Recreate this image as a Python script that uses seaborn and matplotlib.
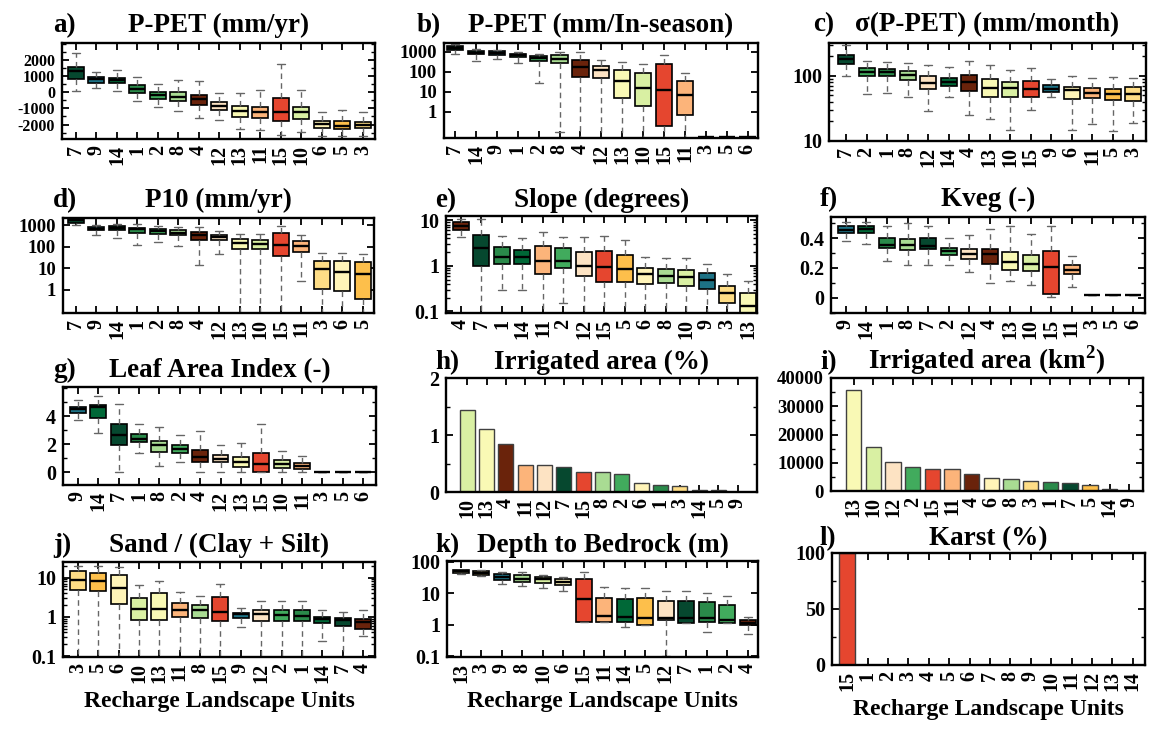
"""Recharge landscape units: distribution of climate / landscape attributes per unit."""

import numpy as np
import pandas as pd
import matplotlib
matplotlib.use("Agg")
import matplotlib.pyplot as plt
import matplotlib.ticker as mticker
import matplotlib.transforms as mtransforms
import seaborn as sns

# colour of each recharge landscape unit
UNIT_COLORS = {
    1: "#2a8a4a", 2: "#41ab5d", 3: "#fedd86", 4: "#6a230b", 5: "#fdbf4b",
    6: "#fff4b8", 7: "#06482f", 8: "#a9dc93", 9: "#1d7285", 10: "#d9f0a3",
    11: "#fcb47a", 12: "#fde3c3", 13: "#f9f9b5", 14: "#006837", 15: "#e5462f",
}

# box panels: units in plotted order, and [low whisker, q1, median, q3, high whisker]
# (0.001 = whisker running below the axis)
A_UNITS = [7, 9, 14, 1, 2, 8, 4, 12, 13, 11, 15, 10, 6, 5, 3]
A_STATS = [[103, 825, 1320, 1588, 2474], [247, 598, 804, 969, 1278],
           [103, 557, 763, 907, 1381], [-536, -21, 206, 454, 928],
           [-928, -412, -165, 41, 515], [-1155, -515, -268, 21, 742],
           [-1608, -784, -412, -165, 680], [-1711, -1093, -845, -598, -21],
           [-2289, -1546, -1155, -845, -62], [-2371, -1608, -1196, -887, 124],
           [-2639, -1753, -1237, -371, 1753], [-2495, -1670, -1237, -928, 124],
           [-2701, -2227, -1959, -1773, -1196], [-2701, -2289, -2062, -1794, -1093],
           [-2701, -2247, -2041, -1835, -1216]]

B_UNITS = [7, 14, 9, 1, 2, 8, 4, 12, 13, 10, 15, 11, 3, 5, 6]
B_STATS = [[800, 1200, 1500, 1900, 2600], [350, 740, 900, 1100, 1450],
           [420, 700, 850, 1050, 1300], [280, 560, 680, 830, 1000],
           [28, 360, 480, 600, 830], [0.09, 280, 460, 680, 1000],
           [0.001, 56, 178, 410, 1000], [0.001, 50, 120, 190, 410],
           [0.001, 4.6, 35, 120, 316], [0.001, 1.9, 15, 83, 260],
           [0.001, 0.18, 12, 260, 680], [0.001, 0.7, 6.6, 34, 90],
           [0.052] * 5, [0.052] * 5, [0.052] * 5]

C_UNITS = [7, 2, 1, 8, 12, 14, 4, 13, 10, 15, 9, 6, 11, 5, 3]
C_STATS = [[100, 150, 179, 213, 303], [53, 100, 116, 131, 171],
           [54, 98, 114, 126, 165], [48, 87, 104, 119, 160],
           [29, 63, 77, 98, 147], [47, 70, 82, 94, 139],
           [25, 59, 82, 104, 169], [22, 48, 65, 89, 147],
           [15, 48, 65, 82, 123], [30, 48, 63, 84, 131],
           [47, 56, 63, 73, 89], [15, 44, 60, 67, 98],
           [18, 46, 54, 65, 92], [14, 43, 53, 63, 95],
           [19, 41, 53, 67, 94]]

D_UNITS = [7, 9, 14, 1, 2, 8, 4, 12, 13, 10, 15, 11, 3, 6, 5]
D_STATS = [[1070, 1300, 1700, 2000, 2400], [370, 590, 700, 840, 1000],
           [270, 590, 750, 930, 1190], [120, 460, 650, 780, 1100],
           [170, 410, 550, 700, 930], [107, 345, 460, 590, 840],
           [15, 218, 345, 490, 840], [44, 204, 290, 370, 530],
           [0.001, 78, 152, 226, 410], [0.001, 78, 133, 204, 410],
           [0.001, 38, 120, 445, 900], [2.5, 59, 112, 190, 370],
           [0.001, 1.1, 9, 22, 49], [0.001, 0.9, 7, 22, 49],
           [0.001, 0.37, 5.2, 19, 46]]

E_UNITS = [4, 7, 1, 14, 11, 2, 12, 15, 5, 6, 8, 10, 9, 3, 13]
E_STATS = [[4.3, 6.0, 7.5, 9.2, 10.9], [0.001, 1.0, 2.5, 4.7, 10.9],
           [0.3, 1.07, 1.6, 2.6, 4.5], [0.3, 1.07, 1.55, 2.2, 4.0],
           [0.001, 0.65, 1.3, 2.7, 5.5], [0.155, 0.9, 1.3, 2.4, 4.3],
           [0.001, 0.6, 1.0, 2.0, 4.2], [0.001, 0.43, 0.92, 2.1, 4.5],
           [0.001, 0.43, 0.83, 1.7, 3.7], [0.001, 0.4, 0.65, 0.9, 1.6],
           [0.001, 0.41, 0.6, 0.83, 1.5], [0.001, 0.36, 0.57, 0.8, 1.5],
           [0.001, 0.31, 0.5, 0.68, 1.07], [0.001, 0.15, 0.25, 0.36, 0.66],
           [0.001, 0.08, 0.13, 0.25, 0.46]]

F_UNITS = [9, 14, 1, 8, 7, 2, 12, 4, 13, 10, 15, 11, 3, 5, 6]
F_STATS = [[0.378, 0.435, 0.455, 0.477, 0.505], [0.363, 0.433, 0.462, 0.477, 0.505],
           [0.246, 0.334, 0.356, 0.402, 0.477], [0.22, 0.319, 0.352, 0.396, 0.5],
           [0.22, 0.325, 0.347, 0.402, 0.477], [0.22, 0.286, 0.312, 0.334, 0.4],
           [0.176, 0.257, 0.292, 0.325, 0.422], [0.099, 0.226, 0.29, 0.325, 0.462],
           [0.114, 0.187, 0.237, 0.308, 0.483], [0.088, 0.18, 0.224, 0.286, 0.424],
           [0.004, 0.026, 0.209, 0.312, 0.477], [0.07, 0.158, 0.187, 0.22, 0.279],
           [0.018] * 5, [0.018] * 5, [0.018] * 5]

G_UNITS = [9, 14, 7, 1, 8, 2, 4, 12, 13, 15, 10, 11, 3, 5, 6]
G_STATS = [[3.74, 4.26, 4.5, 4.69, 5.2], [2.84, 3.88, 4.66, 4.78, 5.44],
           [0, 1.94, 2.65, 3.43, 4.9], [1.42, 2.18, 2.41, 2.72, 3.48],
           [0.47, 1.47, 1.94, 2.25, 3.24], [0.71, 1.42, 1.7, 1.94, 2.65],
           [0.05, 0.71, 1.11, 1.63, 2.93], [0.05, 0.71, 0.99, 1.23, 1.99],
           [0.05, 0.4, 0.71, 1.11, 2.13], [0, 0.05, 0.59, 1.42, 3.48],
           [0.05, 0.33, 0.57, 0.88, 1.51], [0.05, 0.24, 0.47, 0.64, 1.18],
           [0] * 5, [0] * 5, [0] * 5]

J_UNITS = [3, 5, 6, 10, 13, 11, 8, 15, 9, 12, 2, 1, 14, 7, 4]
J_STATS = [[0.001, 4.9, 8.5, 14.5, 19.4], [0.001, 4.5, 8.2, 13.4, 19.4],
           [0.001, 2.1, 5.3, 12, 18.7], [0.001, 0.82, 1.6, 3.1, 6.4],
           [0.001, 0.82, 1.6, 4.1, 8.2], [0.001, 1.0, 1.5, 2.3, 4.3],
           [0.001, 0.94, 1.5, 2.0, 3.4], [0.001, 0.79, 1.3, 3.2, 6.8],
           [0.56, 0.96, 1.15, 1.26, 1.7], [0.001, 0.78, 1.15, 1.5, 2.6],
           [0.001, 0.79, 1.1, 1.5, 2.5], [0.001, 0.78, 1.05, 1.5, 2.6],
           [0.25, 0.68, 0.87, 1.0, 1.5], [0.001, 0.58, 0.82, 0.94, 1.35],
           [0.33, 0.5, 0.74, 0.87, 1.47]]

K_UNITS = [13, 3, 9, 8, 10, 6, 15, 11, 14, 5, 12, 7, 1, 2, 4]
K_STATS = [[42, 45, 50, 53, 56], [35, 39, 45, 51, 53],
           [19.6, 26, 33, 42, 48], [17, 23, 29, 37, 48],
           [15, 21.5, 27.5, 33, 39], [11.8, 18, 23, 28, 33],
           [1.2, 1.2, 6.6, 27.5, 48], [1.2, 1.2, 1.86, 7.3, 16],
           [0.85, 1.2, 1.74, 6.5, 14.4], [1.0, 1.0, 1.66, 7, 14.4],
           [0.105, 1.37, 1.66, 5.5, 11.8], [1.15, 1.15, 1.58, 5.8, 12],
           [0.6, 1.2, 1.58, 5.1, 10.5], [1.15, 1.15, 1.4, 4.1, 8.3],
           [0.52, 1.0, 1.15, 1.37, 1.74]]

# bar panels
H_UNITS = [10, 13, 4, 11, 12, 7, 15, 8, 2, 6, 1, 3, 14, 5, 9]
H_VALUES = [1.44, 1.10, 0.85, 0.48, 0.47, 0.44, 0.35, 0.35, 0.32, 0.165, 0.12, 0.11, 0.04, 0.04, 0.0]

I_UNITS = [13, 10, 12, 2, 15, 11, 4, 6, 8, 3, 1, 7, 5, 14, 9]
I_VALUES = [35650, 15650, 10350, 8470, 7880, 7650, 6120, 4470, 4120, 3530, 3290, 2700, 2000, 590, 0]

L_UNITS = [15, 1, 2, 3, 4, 5, 6, 7, 8, 9, 10, 11, 12, 13, 14]
L_VALUES = [100, 0, 0, 0, 0, 0, 0, 0, 0, 0, 0, 0, 0, 0, 0]

TITLE_FS = 19.5
TICK_FS = 14.5
W, H = 1153, 731

# letter, title, kind, units, data, log, yticks, ylim, xlim,
# axes box in px (left, top, right, bottom), letter left px, title pad (pt), y label size
PANELS = [
    ("a)", "P-PET (mm/yr)", "box", A_UNITS, A_STATS, False,
     [-2000, -1000, 0, 1000, 2000], (-2900, 3070), (-0.68, 14.6), (62, 43, 375, 139), 53, 8, 11.5),
    ("b)", "P-PET (mm/In-season)", "box", B_UNITS, B_STATS, True,
     [1, 10, 100, 1000], (0.047, 2800), (-0.53, 14.5), (444, 43, 758, 138), 417, 8, 13.5),
    ("c)", "σ(P-PET) (mm/month)", "box", C_UNITS, C_STATS, True,
     [10, 100], (10, 320), (-0.83, 14.63), (829, 43, 1146, 141), 813, 8.5, TICK_FS),
    ("d)", "P10 (mm/yr)", "box", D_UNITS, D_STATS, True,
     [1, 10, 100, 1000], (0.083, 2200), (-0.63, 14.54), (63, 218, 374, 313), 53, 8, 13.5),
    ("e)", "Slope (degrees)", "box", E_UNITS, E_STATS, True,
     [0.1, 1, 10], (0.092, 12.4), (-0.73, 14.44), (446, 216, 757, 313), 435, 6.5, TICK_FS),
    ("f)", "Kveg (-)", "box", F_UNITS, F_STATS, False,
     [0, 0.2, 0.4], (-0.1, 0.54), (-0.73, 14.58), (831, 217, 1145, 313), 820, 8, TICK_FS),
    ("g)", "Leaf Area Index (-)", "box", G_UNITS, G_STATS, False,
     [0, 2, 4], (-0.9, 6.1), (-0.73, 14.63), (63, 387, 376, 485), 53, 7, TICK_FS),
    ("h)", "Irrigated area (%)", "bar", H_UNITS, H_VALUES, False,
     [0, 1, 2], (0, 2), (-1.1, 15.0), (446, 378, 757, 492), 435, 6.5, TICK_FS),
    ("i)", r"Irrigated area (km$^{2}$)", "bar", I_UNITS, I_VALUES, False,
     [0, 10000, 20000, 30000, 40000], (0, 40000), (-1.15, 14.7), (831, 378, 1143, 491), 820, 6.5, 13.5),
    ("j)", "Sand / (Clay + Silt)", "box", J_UNITS, J_STATS, True,
     [0.1, 1, 10], (0.095, 25), (-0.73, 14.59), (63, 562, 375, 657), 53, 7, TICK_FS),
    ("k)", "Depth to Bedrock (m)", "box", K_UNITS, K_STATS, True,
     [0.1, 1, 10, 100], (0.095, 105), (-0.68, 14.5), (447, 561, 758, 657), 435, 6.5, TICK_FS),
    ("l)", "Karst (%)", "bar", L_UNITS, L_VALUES, False,
     [0, 50, 100], (0, 100), (-0.75, 14.6), (832, 553, 1145, 665), 820, 6, TICK_FS),
]


def palette_for(units):
    return {str(u): UNIT_COLORS[u] for u in units}


def draw_box(ax, units, stats, log):
    rows = [(str(u), v) for u, s in zip(units, stats) for v in s]
    df = pd.DataFrame(rows, columns=["unit", "value"])
    order = [str(u) for u in units]
    sns.boxplot(data=df, x="unit", y="value", order=order, hue="unit", hue_order=order,
                palette=palette_for(units), saturation=1, width=0.78, whis=np.inf,
                linecolor="black", linewidth=1.2, showfliers=False, log_scale=log,
                legend=False, ax=ax,
                whiskerprops=dict(linestyle=(0, (4, 3)), color="0.4", linewidth=1.0),
                capprops=dict(color="0.4", linewidth=1.0),
                medianprops=dict(color="black", linewidth=1.7))


def draw_bar(ax, units, values):
    order = [str(u) for u in units]
    sns.barplot(x=order, y=values, order=order, hue=order, hue_order=order,
                palette=palette_for(units), saturation=1, width=0.78,
                edgecolor="0.25", linewidth=1.0, legend=False, ax=ax)


def main():
    sns.set_theme(style="ticks")
    plt.rcParams["font.family"] = ["Liberation Serif", "DejaVu Serif"]
    plt.rcParams["font.weight"] = "bold"
    plt.rcParams["axes.unicode_minus"] = False
    plt.rcParams["mathtext.fontset"] = "custom"
    plt.rcParams["mathtext.rm"] = "Liberation Serif:bold"
    plt.rcParams["mathtext.bf"] = "Liberation Serif:bold"
    for key in ("text.color", "axes.labelcolor", "xtick.color", "ytick.color",
                "xtick.labelcolor", "ytick.labelcolor", "axes.edgecolor"):
        plt.rcParams[key] = "black"

    fig = plt.figure(figsize=(W / 100, H / 100), dpi=100)
    fig.patch.set_facecolor("white")

    for (letter, title, kind, units, data, log, yticks, ylim, xlim,
         box, letter_px, pad, ytick_fs) in PANELS:
        l, t, r, b = box
        ax = fig.add_axes([l / W, 1 - b / H, (r - l) / W, (b - t) / H])

        if kind == "box":
            draw_box(ax, units, data, log)
        else:
            draw_bar(ax, units, data)

        ax.set_ylim(*ylim)
        ax.set_xlim(*xlim)
        ax.set_yticks(yticks)
        ax.yaxis.set_major_formatter(mticker.FuncFormatter(lambda v, p: f"{v:g}"))
        if log:
            ax.yaxis.set_minor_formatter(mticker.NullFormatter())
        else:
            ax.yaxis.set_minor_locator(mticker.AutoMinorLocator(2))
        ax.xaxis.set_minor_locator(mticker.NullLocator())

        ax.set_ylabel("")
        if letter in ("j)", "k)", "l)"):
            ax.set_xlabel("Recharge Landscape Units", fontsize=17, fontweight="bold",
                          labelpad=6, color="black")
        else:
            ax.set_xlabel("")

        ax.tick_params(axis="both", which="major", direction="in", top=True, right=True,
                       length=5, width=1.3, color="black", labelcolor="black",
                       labelsize=TICK_FS, pad=5)
        ax.tick_params(axis="y", which="major", labelsize=ytick_fs)
        ax.tick_params(axis="y", which="minor", direction="in", left=True, right=True,
                       length=3, width=1.0, color="black")
        ax.tick_params(axis="x", rotation=90, pad=4)
        for lab in ax.get_xticklabels() + ax.get_yticklabels():
            lab.set_fontweight("bold")

        for s in ax.spines.values():
            s.set_visible(True)
            s.set_linewidth(1.7)
            s.set_color("black")

        ax.set_title(title, fontsize=TITLE_FS, fontweight="bold", pad=pad, color="black")
        trans = mtransforms.offset_copy(ax.transAxes, fig=fig, y=pad, units="points")
        ax.text((letter_px - l) / (r - l), 1.0, letter, transform=trans, ha="left",
                va="baseline", fontsize=TITLE_FS, fontweight="bold", color="black")

    fig.savefig("out.png", dpi=100, facecolor="white")
    plt.close(fig)


if __name__ == "__main__":
    main()
